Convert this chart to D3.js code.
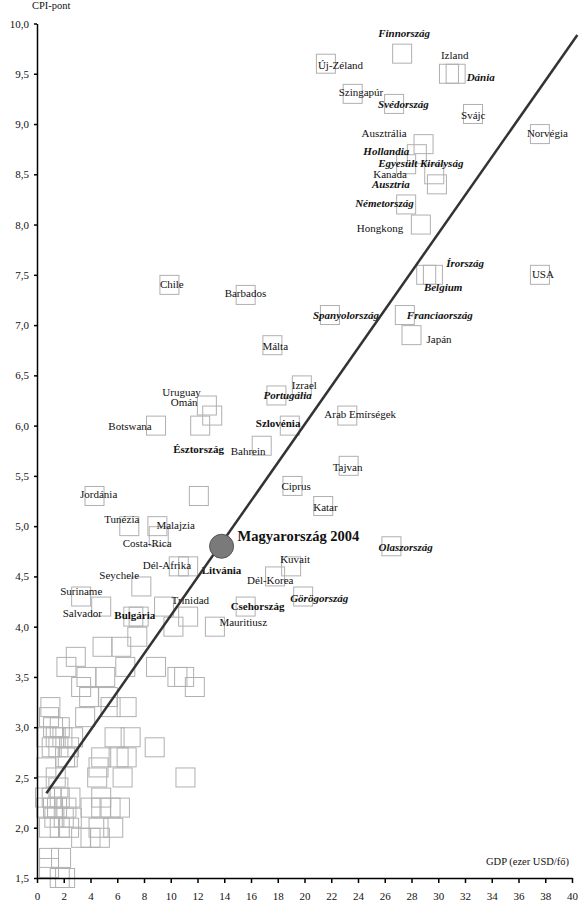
<!DOCTYPE html>
<html>
<head>
<meta charset="utf-8">
<script src="https://cdn.jsdelivr.net/npm/d3@7"></script>
<style>
  body { margin: 0; background: #fff; }
  text { font-family: "Liberation Serif", "Times New Roman", serif; }
</style>
</head>
<body>
<svg id="chart" width="580" height="903"></svg>
<script>
// labelled countries
const names = ["Finnország", "Új-Zéland", "Izland", "Dánia", "Szingapúr", "Svédország", "Svájc",
  "Norvégia", "Ausztrália", "Hollandia", "Egyesült Királyság", "Kanada", "Ausztria", "Németország",
  "Hongkong", "Írország", "Belgium", "USA", "Chile", "Barbados", "Spanyolország", "Franciaország",
  "Japán", "Málta", "Izrael", "Portugália", "Uruguay", "Omán", "Arab Emírségek", "Botswana",
  "Észtország", "Szlovénia", "Bahrein", "Tajvan", "Ciprus", "Jordánia", "Katar", "Tunézia",
  "Malajzia", "Costa-Rica", "Olaszország", "Dél-Afrika", "Litvánia", "Kuvait", "Dél-Korea",
  "Seychele", "Suriname", "Görögország", "Salvador", "Trinidad", "Csehország", "Bulgária", "Mauritiusz"];
const gdp = [27.3, 21.6, 30.8, 31.3, 23.6, 26.7, 32.6, 37.6, 28.9, 28.4, 27.6, 29.7, 29.9, 27.6,
  28.7, 29.1, 29.6, 37.6, 9.9, 15.6, 21.9, 27.5, 28.0, 17.6, 19.8, 17.9, 12.7, 13.1, 23.2, 8.9,
  12.2, 18.9, 16.8, 23.3, 19.1, 4.3, 21.4, 6.9, 9.0, 9.1, 26.5, 10.6, 11.3, 19.0, 17.8,
  7.8, 3.3, 19.9, 4.8, 9.5, 15.6, 7.2, 13.3];
const cpi = [9.7, 9.6, 9.5, 9.5, 9.3, 9.2, 9.1, 8.9, 8.8, 8.7, 8.6, 8.5, 8.4, 8.2,
  8.0, 7.5, 7.5, 7.5, 7.4, 7.3, 7.1, 7.1, 6.9, 6.8, 6.4, 6.3, 6.2, 6.1, 6.1, 6.0,
  6.0, 6.0, 5.8, 5.6, 5.4, 5.3, 5.2, 5.0, 5.0, 4.9, 4.8, 4.6, 4.6, 4.6, 4.5,
  4.4, 4.3, 4.3, 4.2, 4.2, 4.2, 4.1, 4.0];
// EU-15 members in bold italic, new members / candidates in bold
const euOld = ["Finnország", "Dánia", "Svédország", "Hollandia", "Egyesült Királyság", "Ausztria",
  "Németország", "Írország", "Belgium", "Spanyolország", "Franciaország", "Portugália",
  "Olaszország", "Görögország"];
const euNew = ["Szlovénia", "Észtország", "Litvánia", "Csehország", "Bulgária"];

// unlabelled countries
const otherGdp = [12.1, 7.6, 10.2, 11.3, 4.9, 6.3, 7.5, 2.2, 2.9, 3.7, 5.1, 6.6, 8.9, 10.5, 11.0, 11.8,
  3.3, 3.9, 5.3, 5.5, 6.7, 3.6, 1.0, 0.9, 1.7, 5.8, 7.0, 0.7, 1.4, 1.9, 2.7, 8.8, 2.3, 4.8, 6.1,
  6.7, 4.6, 4.5, 6.4, 0.7, 1.4, 11.1, 4.8, 1.7, 2.5, 0.6, 6.2, 4.8, 4.0, 0.7, 1.5, 2.2, 0.9,
  1.7, 2.4, 3.3, 4.6, 5.7, 4.0, 0.9, 1.8, 1.7, 2.1, 0.9, 1.2, 1.3, 1.1, 2.0, 1.6, 2.6, 1.1,
  1.6, 2.1, 1.2, 2.4, 5.5, 4.7];
const otherCpi = [5.3, 4.1, 4.0, 4.1, 3.8, 3.8, 3.9, 3.6, 3.7, 3.5, 3.5, 3.6, 3.6, 3.5, 3.5, 3.4,
  3.4, 3.3, 3.3, 3.2, 3.2, 3.1, 3.2, 3.1, 3.0, 2.9, 2.9, 2.9, 2.9, 2.9, 2.9, 2.8, 2.7, 2.7, 2.7,
  2.7, 2.6, 2.5, 2.5, 2.6, 2.5, 2.5, 2.3, 2.3, 2.3, 2.3, 2.2, 2.2, 2.2, 2.2, 2.2, 2.2, 2.0,
  2.0, 2.0, 1.9, 2.0, 2.0, 1.9, 1.7, 1.7, 1.5, 1.5, 1.6, 2.2, 2.1, 2.3, 2.1, 2.4, 2.1, 2.8,
  2.8, 2.7, 3.0, 2.8, 2.2, 1.9];

const huGdp = 13.8, huCpi = 4.8;
// trend line
const trendX = [0.7, 40.4];
const trendA = 2.21, trendB = 0.19;

const xTicks = d3.range(0, 41, 2);
const yTicks = d3.range(1.5, 10.01, 0.5);

// label offsets (px) from the square centre, same order as names
const labelOffset = [[-24, -17], [-8, 5], [-8, -14.5], [11, 7], [-14, 2], [-16, 4], [-12, 5],
  [-13, 2.5], [-62, -7.5], [-53.5, 1], [-28, 2.5], [-61, 4], [-65, 4], [-51, 3], [-64, 7],
  [20, -8], [-9, 16], [-8, 3], [-9.5, 3], [-21, 2], [-17, 4], [2, 4], [15, 8], [-10, 4.5],
  [-10, 4], [-13, 3.5], [-44.5, -10], [-41.5, -10], [-23, 2.5], [-47.7, 4], [-27, 27.5],
  [-34, 1.5], [-31, 9], [-16, 5.5], [-11, 4], [-14.5, 2], [-10, 5], [-25, -3], [-1, 3],
  [-36, 11], [-13, 5], [-36, 3], [13.5, 8], [-11, -3.5], [-28, 8], [-42, -7.5], [-21, -2],
  [-13, 5], [-38.5, 10], [7.5, -3], [-15, 3], [-19, 2], [4.5, -0.5]];

const margin = { top: 23.5, right: 8, bottom: 25, left: 37 };
const svg = d3.select("#chart");
const width = 580 - margin.left - margin.right;
const height = 903 - margin.top - margin.bottom;
const g = svg.append("g").attr("transform", `translate(${margin.left},${margin.top})`);

const x = d3.scaleLinear().domain([0, 40]).range([0, width]);
const y = d3.scaleLinear().domain([1.5, 10]).range([height, 0]);
const huFormat = d3.formatLocale({ decimal: ",", thousands: " ", grouping: [3], currency: ["", ""] });

const side = 19;
const others = otherGdp.map((v, i) => ({ gdp: v, cpi: otherCpi[i] }));
const labelled = names.map((n, i) => ({ name: n, gdp: gdp[i], cpi: cpi[i], off: labelOffset[i] }));

g.selectAll("rect.other")
  .data(others.concat(labelled))
  .enter()
  .append("rect")
  .attr("class", "other")
  .attr("x", (d) => x(d.gdp) - side / 2)
  .attr("y", (d) => y(d.cpi) - side / 2)
  .attr("width", side)
  .attr("height", side)
  .attr("fill", "none")
  .attr("stroke", "#b0b0b0")
  .attr("stroke-width", 1);

g.selectAll("text.lab")
  .data(labelled)
  .enter()
  .append("text")
  .attr("class", "lab")
  .attr("x", (d) => x(d.gdp) + d.off[0])
  .attr("y", (d) => y(d.cpi) + d.off[1])
  .attr("font-size", 11)
  .attr("font-weight", (d) => (euOld.includes(d.name) || euNew.includes(d.name) ? "bold" : "normal"))
  .attr("font-style", (d) => (euOld.includes(d.name) ? "italic" : "normal"))
  .attr("fill", "#111")
  .text((d) => d.name);

g.append("line")
  .attr("x1", x(trendX[0]))
  .attr("y1", y(trendA + trendB * trendX[0]))
  .attr("x2", x(trendX[1]))
  .attr("y2", y(trendA + trendB * trendX[1]))
  .attr("stroke", "#333")
  .attr("stroke-width", 2.5);

g.append("circle")
  .attr("cx", x(huGdp))
  .attr("cy", y(huCpi))
  .attr("r", 12)
  .attr("fill", "#7a7a7a")
  .attr("stroke", "#555")
  .attr("stroke-width", 1);

g.append("text")
  .attr("x", x(huGdp) + 16)
  .attr("y", y(huCpi) - 5)
  .attr("font-size", 14.5)
  .attr("font-weight", "bold")
  .attr("fill", "#111")
  .text("Magyarország 2004");

const yAxis = g.append("g")
  .call(d3.axisLeft(y).tickValues(yTicks).tickSize(3).tickSizeOuter(0).tickPadding(5)
    .tickFormat(huFormat.format(".1f")));
const xAxis = g.append("g")
  .attr("transform", `translate(0,${height})`)
  .call(d3.axisBottom(x).tickValues(xTicks).tickSize(5).tickSizeOuter(0).tickPadding(9));

[yAxis, xAxis].forEach((a) => {
  a.select(".domain").attr("stroke", "#000").attr("stroke-width", 1.5);
  a.selectAll(".tick line").attr("stroke", "#000").attr("stroke-width", 1.5);
  a.selectAll("text").attr("font-family", "Liberation Serif").attr("font-size", 11).attr("fill", "#111");
});

svg.append("text")
  .attr("x", 32)
  .attr("y", 9)
  .attr("font-size", 10.5)
  .attr("fill", "#111")
  .text("CPI-pont");

svg.append("text")
  .attr("x", 569)
  .attr("y", 865)
  .attr("text-anchor", "end")
  .attr("font-size", 10.5)
  .attr("fill", "#111")
  .text("GDP (ezer USD/fő)");
</script>
</body>
</html>
